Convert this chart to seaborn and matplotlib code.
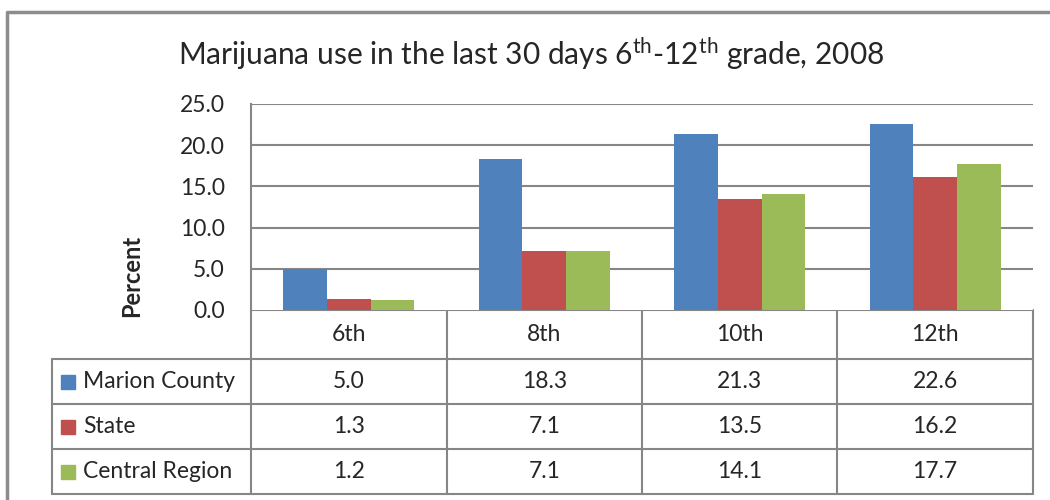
import matplotlib
matplotlib.use("Agg")
import matplotlib.pyplot as plt
import pandas as pd
import seaborn as sns

# data
grades = ["6th", "8th", "10th", "12th"]
series = ["Marion County", "State", "Central Region"]
marion = [5.0, 18.3, 21.3, 22.6]
state = [1.3, 7.1, 13.5, 16.2]
central = [1.2, 7.1, 14.1, 17.7]
colors = ["#4F81BD", "#C0504D", "#9BBB59"]
yticks = [0, 5, 10, 15, 20, 25]

values = {"Marion County": marion, "State": state, "Central Region": central}
df = pd.DataFrame([(g, s, values[s][i]) for s in series for i, g in enumerate(grades)],
                  columns=["grade", "series", "pct"])

sns.set_style("white")
plt.rcParams['font.family'] = ['Lato', 'DejaVu Sans']
plt.rcParams['mathtext.fontset'] = 'custom'
plt.rcParams['mathtext.rm'] = 'Lato'

W, H = 1050, 500
fig = plt.figure(figsize=(10.5, 5), dpi=100)
grid = "#868686"
fs = 16.5

# pixel layout
px_left, px_right, px_top, px_bottom = 251, 1033, 104, 310
ax = fig.add_axes([px_left / W, 1 - px_bottom / H, (px_right - px_left) / W, (px_bottom - px_top) / H])
sns.barplot(data=df, x="grade", y="pct", hue="series", palette=colors, width=0.67,
            gap=0, saturation=1, legend=False, ax=ax, order=grades, hue_order=series,
            linewidth=0)
ax.set_xlim(-0.5, len(grades) - 0.5)
ax.set_ylim(0, 25)
ax.set_yticks(yticks)
ax.set_yticklabels([f"{v:.1f}" for v in yticks], fontsize=fs)
ax.set_xticks([])
ax.set_xlabel("")
ax.set_ylabel("")
ax.tick_params(axis="y", length=0, pad=19)
for v in yticks[1:]:
    ax.axhline(v, color=grid, lw=1.5, zorder=0)
for side in ["top", "right", "bottom"]:
    ax.spines[side].set_visible(False)
ax.spines["left"].set_color(grid)
ax.spines["left"].set_linewidth(1.5)

# overlay in pixel coordinates for table, frame and title
ov = fig.add_axes([0, 0, 1, 1], zorder=-1)
ov.set_xlim(0, W)
ov.set_ylim(H, 0)
ov.axis("off")

# outer frame
ov.plot([7, 7, W], [H, 12, 12], color="#8c8c8c", lw=2.5)

ov.text(531, 53, "Marijuana use in the last 30 days 6$^{\\mathrm{th}}$-12$^{\\mathrm{th}}$ grade, 2008",
        fontsize=21.5, ha="center", va="center")
fig.text(132 / W, 1 - 276 / H, "Percent", rotation=90, fontsize=17, fontweight="bold",
         ha="center", va="center")

# data table
col_x = [251, 447, 642, 837, 1033]
row_y = [310, 359, 404, 449, 494]
head_left = 52
ov.plot([px_left, px_left], [px_bottom, row_y[-1]], color=grid, lw=1.5)
for x in col_x[1:]:
    ov.plot([x, x], [row_y[0], row_y[-1]], color=grid, lw=1.5)
ov.plot([head_left, head_left], [row_y[1], row_y[-1]], color=grid, lw=1.5)
ov.plot([px_left, px_right], [row_y[0], row_y[0]], color=grid, lw=1.5)
for y in row_y[1:]:
    ov.plot([head_left, px_right], [y, y], color=grid, lw=1.5)

for i, g in enumerate(grades):
    cx = (col_x[i] + col_x[i + 1]) / 2
    ov.text(cx, (row_y[0] + row_y[1]) / 2, g, fontsize=fs, ha="center", va="center")
for r, s in enumerate(series):
    cy = (row_y[r + 1] + row_y[r + 2]) / 2
    ov.add_patch(plt.Rectangle((61, cy - 7), 14, 14, color=colors[r]))
    ov.text(83, cy, s, fontsize=fs, ha="left", va="center")
    for i, v in enumerate(values[s]):
        cx = (col_x[i] + col_x[i + 1]) / 2
        ov.text(cx, cy, f"{v:.1f}", fontsize=fs, ha="center", va="center")

fig.savefig("out.png", dpi=100)
